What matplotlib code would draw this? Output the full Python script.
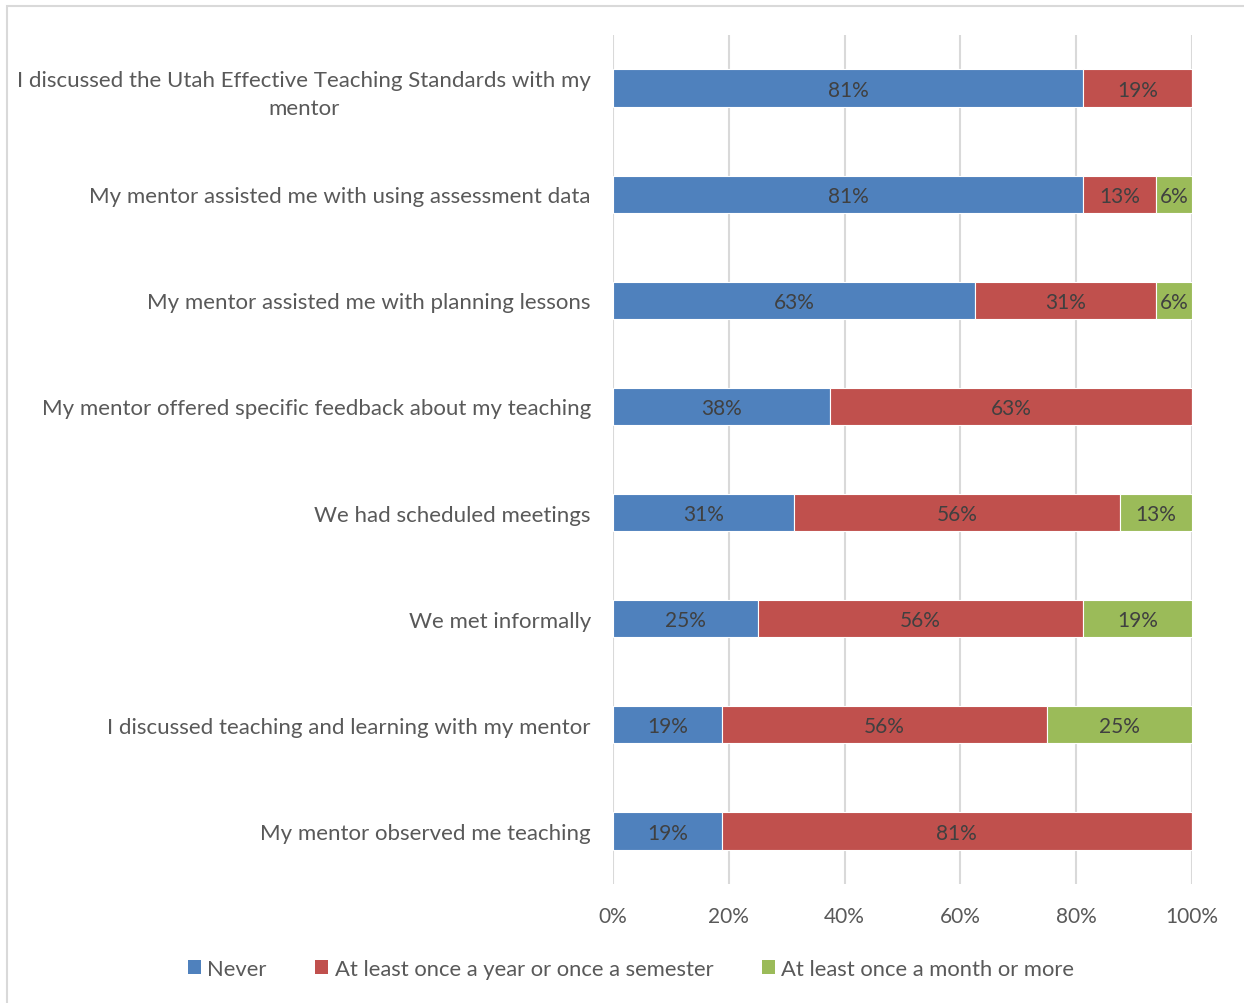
import matplotlib.pyplot as plt
from matplotlib.patches import Patch, Rectangle
import numpy as np

plt.rcParams['font.family'] = ['Lato', 'DejaVu Sans']

# survey items, top to bottom
items = [
    "I discussed the Utah Effective Teaching Standards with my\nmentor",
    "My mentor assisted me with using assessment data",
    "My mentor assisted me with planning lessons",
    "My mentor offered specific feedback about my teaching",
    "We had scheduled meetings",
    "We met informally",
    "I discussed teaching and learning with my mentor",
    "My mentor observed me teaching",
]

# share of respondents (%)
never = [81.25, 81.25, 62.5, 37.5, 31.25, 25.0, 18.75, 18.75]
yearly = [18.75, 12.5, 31.25, 62.5, 56.25, 56.25, 56.25, 81.25]
monthly = [0.0, 6.25, 6.25, 0.0, 12.5, 18.75, 25.0, 0.0]

series_names = ["Never", "At least once a year or once a semester",
                "At least once a month or more"]
colors = ["#4F81BD", "#C0504D", "#9BBB59"]

xticks = [0, 20, 40, 60, 80, 100]


def pct_label(v):
    # Excel-style rounding (half away from zero)
    return f"{int(np.floor(v + 0.5))}%"


fig = plt.figure(figsize=(12.44, 10.04), dpi=100)
ax = fig.add_axes([613 / 1244, 1 - 885 / 1004, 579 / 1244, 849 / 1004])

# outer chart border
fig.patches.append(Rectangle((7 / 1244, -0.01), 1.2, 1 - 6.5 / 1004 + 0.01,
                             transform=fig.transFigure, fill=False,
                             edgecolor="#D9D9D9", lw=1.5))

y = np.arange(len(items))
left = np.zeros(len(items))
for vals, name, col in zip([never, yearly, monthly], series_names, colors):
    vals = np.array(vals)
    ax.barh(y, vals, left=left, height=0.35, color=col, edgecolor="white",
            linewidth=0.8, label=name, zorder=3)
    for yi, l, v in zip(y, left, vals):
        if v > 0:
            ax.text(l + v / 2, yi + 0.015, pct_label(v), ha="center", va="center",
                    fontsize=15, color="#404040", zorder=4)
    left += vals

ax.set_xlim(0, 100)
ax.set_ylim(len(items) - 0.5, -0.5)
ax.set_xticks(xticks)
ax.set_xticklabels([f"{t}%" for t in xticks])
ax.set_yticks(y)
ax.set_yticklabels(items, multialignment="center", linespacing=1.5)
ax.tick_params(axis="x", length=0, pad=16, labelsize=15, labelcolor="#595959")
ax.tick_params(axis="y", length=0, pad=16, labelsize=16, labelcolor="#595959")
ax.grid(axis="x", color="#D9D9D9", lw=1.5, zorder=0)
for s in ax.spines.values():
    s.set_visible(False)

handles = [Patch(facecolor=c, edgecolor="none") for c in colors]
fig.legend(handles, series_names, loc="center", bbox_to_anchor=(631 / 1244, 1 - 970 / 1004),
           ncol=3, frameon=False, fontsize=15.8, labelcolor="#595959",
           handlelength=0.6, handleheight=0.6, handletextpad=0.3, columnspacing=2.2)

fig.savefig("out.png", dpi=100)
